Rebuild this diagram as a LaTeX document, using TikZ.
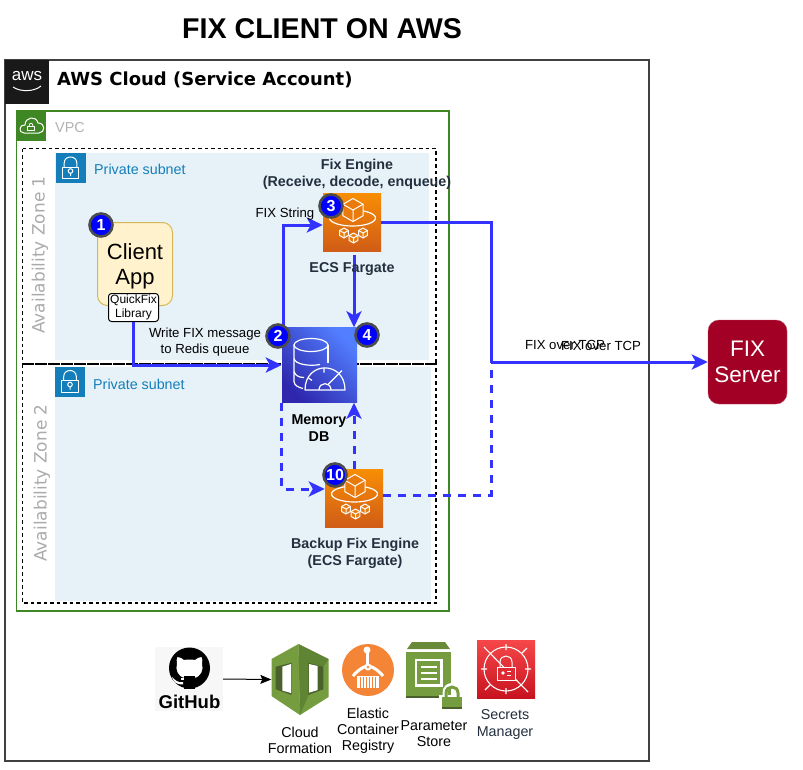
\documentclass[tikz,border=0pt]{standalone}
\usepackage{fontspec}
\setmainfont{Liberation Sans}
\newfontfamily\dejavu{DejaVu Sans}
\usetikzlibrary{arrows.meta}
\definecolor{flowblue}{HTML}{3333FF}
\definecolor{awsgreen}{HTML}{3F8624}
\definecolor{subnetblue}{HTML}{147EBA}
\definecolor{subnetfill}{HTML}{E6F2F8}
\definecolor{darktext}{HTML}{232F3E}
\definecolor{leaf}{HTML}{759C3E}
\definecolor{leafmid}{HTML}{5F8534}
\definecolor{leafdark}{HTML}{4B612C}
\definecolor{ecrorange}{HTML}{F58536}
\definecolor{fargatetop}{HTML}{F78E04}
\definecolor{fargatebot}{HTML}{D05C17}
\definecolor{fargatemid}{HTML}{E97A0E}
\definecolor{dbdark}{HTML}{2E27AD}
\definecolor{dblight}{HTML}{527FFF}
\definecolor{secrettop}{HTML}{F54749}
\definecolor{secretbot}{HTML}{C7131F}
\definecolor{secretmid}{HTML}{DE2A33}
\definecolor{clientfill}{HTML}{FFF2CC}
\definecolor{clientline}{HTML}{D6B656}
\definecolor{fixred}{HTML}{A20025}
\tikzset{
  lbl/.style={inner sep=0pt,align=center,font=\fontsize{13.2}{16}\selectfont},
  boldlbl/.style={lbl,font=\fontsize{14.3}{17}\selectfont\bfseries,text=darktext},
  svc/.style={lbl,font=\fontsize{14.3}{16}\selectfont},
  flow/.style={draw=flowblue,line width=3pt,-{Stealth[length=16pt,width=15pt,inset=4pt]}},
  flowplain/.style={draw=flowblue,line width=3pt},
  flowdash/.style={flow,dash pattern=on 8pt off 7pt},
  flowdashplain/.style={flowplain,dash pattern=on 8pt off 7pt},
  badge/.style={circle,draw=black!70,line width=2.6pt,fill=blue,text=white,minimum size=23pt,inner sep=0pt,font=\fontsize{16}{16}\selectfont\bfseries},
  zone/.style={draw=black,line width=1.4pt,dash pattern=on 3.5pt off 3pt},
  zonelbl/.style={inner sep=0pt,text=black!33,rotate=90,font=\fontsize{17}{17}\selectfont\dejavu},
  subnet/.style={fill=subnetfill,draw=none},
  fargatebox/.style={minimum size=58pt,inner sep=0pt,top color=fargatetop,bottom color=fargatebot,draw=none},
  icon/.style={draw=white,line width=1pt,line join=round},
  subnetlbl/.style={anchor=west,inner sep=0pt,text=subnetblue,font=\fontsize{14.3}{15}\selectfont},
}
\newcommand{\cubeat}[3]{\begin{scope}[shift={(#1,#2)},scale=#3]
  \filldraw[icon,fill=fargatemid] (0,-1)--(.87,-.5)--(.87,.5)--(0,1)--(-.87,.5)--(-.87,-.5)--cycle;
  \draw[icon] (-.87,-.5)--(0,0)--(.87,-.5) (0,0)--(0,1);
\end{scope}}
\newcommand{\fargateicon}[2]{\begin{scope}[shift={(#1,#2)}]
  \draw[icon,line width=1.2pt] (29.5,25) circle[x radius=23,y radius=8];
  \cubeat{30}{17}{11.5}
  \cubeat{21}{40}{5}
  \cubeat{40}{40}{5}
  \cubeat{30.5}{45}{5}
\end{scope}}
\newcommand{\lockicon}[2]{\begin{scope}[shift={(#1,#2)}]
  \fill[subnetblue] (0,0) rectangle (30,30);
  \draw[icon] (6.7,14) rectangle (23.3,25.7);
  \draw[icon] (8.7,14)--(8.7,10) .. controls (8.7,2) and (21.3,2) .. (21.3,10)--(21.3,14);
  \draw[icon] (15,18) circle (2.3) (15,20.3)--(15,23);
\end{scope}}
\begin{document}
\begin{tikzpicture}[x=1pt,y=-1pt]
\useasboundingbox (0,0) rectangle (803,769);
\fill[white] (0,0) rectangle (803,769);
% title
\node[inner sep=0pt,font=\fontsize{28.6}{29}\selectfont\bfseries] (title) at (322,29) {FIX CLIENT ON AWS};
% AWS cloud
\draw[draw=black!75,line width=1.2pt] (5,60) rectangle (649,761);
\fill[black!90] (5,60) rectangle (49,104);
\node[inner sep=0pt,text=white,font=\fontsize{17}{17}\selectfont] (awslogo) at (27,76.5) {aws};
\draw[white,line width=1pt] (13,87) .. controls (20,92) and (34,92) .. (41,86);
\node[anchor=west,inner sep=0pt,font=\fontsize{18}{18}\selectfont\dejavu\bfseries] (cloudtitle) at (57,80) {AWS Cloud (Service Account)};
% VPC
\draw[awsgreen,line width=1.4pt] (16.5,111) rectangle (449,611);
\fill[awsgreen] (16,111) rectangle (46,141);
\draw[icon] (24,133) .. controls (18,133) and (19,124) .. (25,125) .. controls (25,117) and (36,115) .. (38,123) .. controls (46,123) and (45,133) .. (39,133) -- cycle;
\draw[icon,line width=.8pt] (27.5,126.5) rectangle (34.5,130.5);
\draw[icon,line width=.8pt] (29,126.5) .. controls (29,122) and (33,122) .. (33,126.5);
\node[anchor=west,inner sep=0pt,text=black!30,font=\fontsize{14.4}{15}\selectfont] (vpclbl) at (55,128) {VPC};
% subnets
\fill[subnet] (55,153) rectangle (429,360);
\fill[subnet] (55,367) rectangle (431,601);
\lockicon{55.5}{153}
\lockicon{55}{366.5}
\node[subnetlbl] (sub1) at (94,169) {Private subnet};
\node[subnetlbl] (sub2) at (93,384) {Private subnet};
% zones
\draw[zone] (22.5,148.5) rectangle (436,364);
\draw[zone] (22.5,364) rectangle (436,603);
\node[zonelbl] (az1) at (40,255) {Availability Zone 1};
\node[zonelbl] (az2) at (42,483) {Availability Zone 2};
% client
\node[draw=clientline,fill=clientfill,rounded corners=10pt,line width=1pt,minimum width=75pt,minimum height=83pt,inner sep=0pt,anchor=north west] (client) at (97,222) {};
\node[inner sep=0pt,align=center,font=\fontsize{22}{25}\selectfont] (clientlbl) at (135,266.5) {Client\\App};
\node[draw=black,fill=white,rounded corners=3pt,line width=1pt,minimum width=50pt,minimum height=28pt,inner sep=0pt,align=center,font=\fontsize{12}{14}\selectfont] (lib) at (133.5,307.5) {QuickFix\\Library};
% icons nodes
\node[fargatebox] (ecs) at (352,222) {};
\fargateicon{323}{193}
\node[fargatebox] (ecsb) at (354,498) {};
\fargateicon{325}{469}
\node[minimum size=75pt,inner sep=0pt,top color=dblight,bottom color=dbdark,shading angle=-45,draw=none] (memdb) at (319.5,365) {};
\begin{scope}[shift={(282,327.5)},icon/.append style={line width=1.2pt}]
  \draw[icon] (29,17.5) circle[x radius=17,y radius=6.5];
  \draw[icon] (12,17.5)--(12,54) .. controls (12,58) and (17,60) .. (21,61);
  \draw[icon] (46,17.5)--(46,35);
  \draw[icon] (12,31) .. controls (13,37) and (28,39) .. (38,37);
  \draw[icon] (12,44) .. controls (13,48) and (17,50) .. (22,50);
  \draw[icon] (23,62.5) .. controls (23,33) and (63,33) .. (63,62.5) -- cycle;
  \draw[icon] (37,62.5) .. controls (37,54) and (49,54) .. (49,62.5);
  \draw[icon] (46,57)--(60,43);
  \draw[icon] (26,50)--(30,53) (42,40)--(42,45);
\end{scope}
% FIX server
\node[fill=fixred,draw=fixred!70,rounded corners=11pt,minimum width=79pt,minimum height=84pt,inner sep=0pt,align=center,text=white,font=\fontsize{22.5}{26}\selectfont] (fix) at (747.5,362) {FIX\\Server};
% connectors
\coordinate (junction) at (491,362);
\draw[flow] (lib.south) |- (memdb.west);
\draw[flow] ([xshift=2pt]memdb.north west) |- ([yshift=-3pt]ecs.west);
\draw[flow] ([xshift=2pt,yshift=-4pt]ecs.south) -- ([xshift=2pt]ecs.south |- memdb.north);
\draw[flowplain] (ecs.east) -| (junction);
\draw[flow] (junction) -- (fix.west);
\draw[flowdash] (memdb.south west) |- ([yshift=9pt]ecsb.west);
\draw[flowdash] (ecsb.north) -- (ecsb.north |- memdb.south);
\draw[flowdashplain] ([yshift=3pt]ecsb.east) -| (junction);
% labels
\node[lbl] (writelbl) at (205,342) {Write FIX message\\to Redis queue};
\node[lbl] (fixstr) at (285,214) {FIX String};
\node[boldlbl] (enginelbl) at (357,174.5) {Fix Engine\\(Receive, decode, enqueue)};
\node[boldlbl] (fargatelbl) at (352,269) {ECS Fargate};
\node[boldlbl,text=black] (dblbl) at (319,428.5) {Memory\\DB};
\node[boldlbl] (backuplbl) at (355,553.5) {Backup Fix Engine\\(ECS Fargate)};
\node[lbl] (tcp1) at (565,345) {FIX over TCP};
\node[lbl] (tcp2) at (601,346) {FIX over TCP};
% badges
\node[badge] (b1) at (101,225) {1};
\node[badge] (b2) at (278,336) {2};
\node[badge] (b3) at (331,206) {3};
\node[badge] (b4) at (367,335) {4};
\node[badge] (b10) at (335,475) {10};
% GitHub
\node[fill=black!3,draw=none,minimum width=68pt,minimum height=64pt,inner sep=0pt] (github) at (189,679) {};
\fill[black] (189.5,668) circle (20.5);
\fill[white] (177,664) .. controls (176.5,661) and (176.5,659) .. (177.5,657) .. controls (180,657) and (182,658.5) .. (184,660) .. controls (187,659.4) and (192,659.4) .. (195,660) .. controls (197,658.5) and (199,657) .. (201.5,657) .. controls (202.5,659) and (202.5,661) .. (202,664) .. controls (204,669) and (201,677) .. (194,678) -- (185,678) .. controls (178,677) and (175,669) .. (177,664) -- cycle;
\fill[white] (172,677) .. controls (175,680) and (178,683) .. (183,682) -- (183,684.5) .. controls (176,685) and (173,681) .. (172,677) -- cycle;
\fill[black] (184,676) rectangle (195,689);
\fill[white] (181,678) rectangle (184,680);
\node[inner sep=0pt,font=\fontsize{18.5}{19}\selectfont\bfseries] (githublbl) at (189.5,701.5) {GitHub};
% CloudFormation
\node[minimum width=57pt,minimum height=71pt,inner sep=0pt] (cfn) at (300,679.5) {};
\fill[leaf] (298.5,644)--(271.5,659)--(271.5,696)--(300,715)--cycle;
\fill[leaf] (298.5,644)--(328.5,659)--(328.5,697)--(300,715)--cycle;
\fill[leafmid] (298.5,644)--(328.5,659)--(323.3,666.7)--(308.5,662.7)--(308.5,695)--(300,715)--cycle;
\fill[leafdark] (275.7,666.7)--(291.7,662.7)--(291.7,695)--(275.7,689.3)--cycle;
\fill[leafdark] (308.3,662.7)--(323.3,666.7)--(323.3,689.3)--(308.3,695)--cycle;
\fill[white] (282.3,666.7)--(291,664)--(291,693)--(282.3,690.5)--cycle;
\fill[white] (309,664)--(317.7,666)--(317.7,690)--(309,692.7)--cycle;
\draw[black,line width=1pt,-{Stealth[length=11pt,width=9pt,inset=2pt]}] (github.east) -- (cfn.west);
\node[svc] (cfnlbl) at (300,740) {Cloud\\Formation};
% ECR
\node[circle,fill=ecrorange,minimum size=52pt,inner sep=0pt] (ecr) at (368,670) {};
\draw[white,line width=3pt] (367,651)--(367,665);
\fill[white] (367,650) circle (3.5);
\draw[white,line width=3pt] (353,676) .. controls (356,672) and (362,667) .. (367,666);
\draw[white,line width=3pt] (383,676) .. controls (380,672) and (374,667) .. (369,666);
\fill[white] (368,667) circle (3.5);
\fill[ecrorange] (368,667) circle (1.3);
\fill[white] (357,676) rectangle (379,688);
\foreach \sx in {360,363,366,369,372,375}{\draw[ecrorange,line width=.6pt] (\sx,677)--(\sx,688);}
\node[svc] (ecrlbl) at (368,731) {Elastic\\Container\\Registry};
% Parameter store
\node[minimum width=45pt,minimum height=56pt,inner sep=0pt] (param) at (428.5,670) {};
\fill[leaf!70!leafdark] (407,649)--(412,642)--(445,642)--(450,649)--cycle;
\fill[leaf] (406,652) rectangle (451,698);
\fill[leafdark] (406,696) rectangle (451,698);
\draw[white,line width=2.4pt] (416,660) rectangle (441.5,685.5);
\draw[white,line width=1.4pt] (421,667)--(437,667) (421,673)--(437,673) (421,679)--(437,679);
\draw[white,line width=5pt] (445,699)--(445,693) .. controls (445,683) and (459,683) .. (459,693)--(459,699);
\fill[white] (439,695) rectangle (464,711);
\draw[leaf,line width=3pt] (446,697)--(446,693) .. controls (446,685) and (458,685) .. (458,693)--(458,697);
\fill[leaf] (442,697) rectangle (462,707);
\fill[leafdark] (442,707) rectangle (462,709);
\node[svc] (paramlbl) at (434,734) {Parameter\\Store};
% Secrets
\node[minimum width=58pt,minimum height=58pt,inner sep=0pt,top color=secrettop,bottom color=secretbot,draw=none] (secrets) at (506,669.5) {};
\draw[icon,line width=1.1pt] (506,669) circle (22);
\draw[icon,line width=1.1pt] (484,647)--(528,692);
\draw[icon,line width=1.1pt] (506,644)--(506,650) (506,688)--(506,694) (481,669)--(487,669) (525,669)--(531,669) (522,653)--(527,648) (490,685)--(485,690);
\filldraw[icon,fill=secretmid] (497,667) rectangle (515,680);
\draw[icon] (500,667)--(500,662) .. controls (500,654) and (512,654) .. (512,662)--(512,667);
\fill[white] (503,673) circle (1.8);
\draw[white,line width=1pt] (507,671)--(511,671) (507,675)--(511,675);
\node[lbl,text=darktext,font=\fontsize{14.3}{17}\selectfont] (secretslbl) at (505,724) {Secrets\\Manager};
\end{tikzpicture}
\end{document}
